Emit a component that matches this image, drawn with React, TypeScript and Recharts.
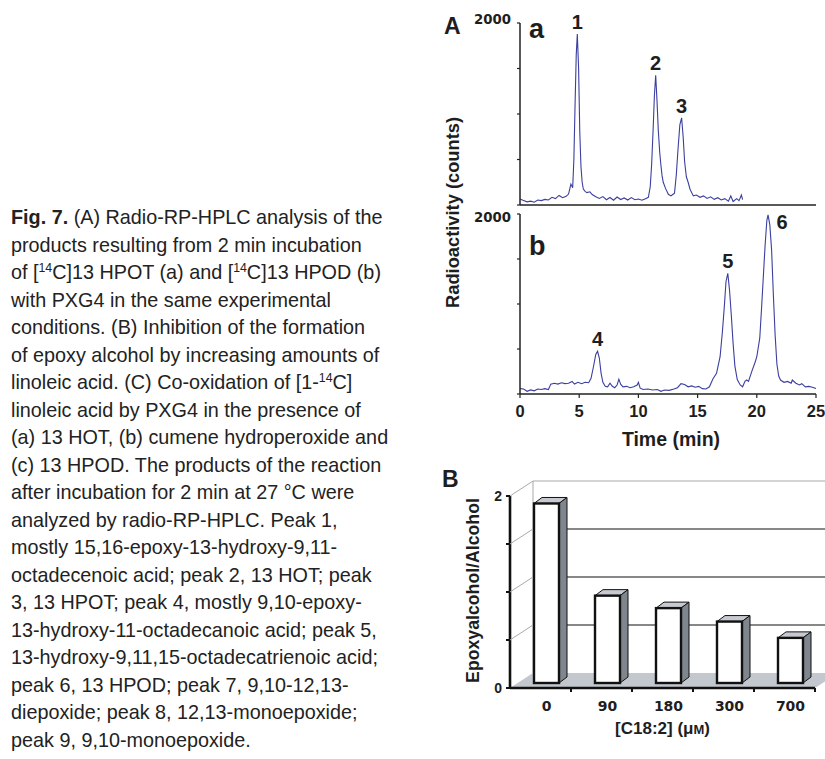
import React from 'react';
import { LineChart, Line, XAxis, YAxis, ReferenceDot, BarChart, Bar, CartesianGrid } from 'recharts';

// ---------------- data ----------------
const timeTicks = [0, 5, 10, 15, 20, 25];
const countTicks = [0, 500, 1000, 1500, 2000];

// panel a: [14C]13 HPOT  (time in min, counts)
const traceA: [number, number][] = [
  [0, 65], [0.3, 50], [0.6, 35], [0.9, 42], [1.2, 30], [1.5, 55], [1.8, 48], [2.1, 62], [2.4, 55],
  [2.7, 85], [3.0, 70], [3.3, 105], [3.6, 80], [3.9, 95], [4.1, 120], [4.3, 230], [4.45, 190],
  [4.55, 500], [4.65, 1100], [4.75, 1650], [4.84, 1880], [4.95, 1500], [5.05, 800], [5.15, 420],
  [5.25, 250], [5.35, 175], [5.5, 150], [5.65, 136], [5.9, 145], [6.1, 115], [6.4, 90], [6.7, 72],
  [7.0, 92], [7.3, 58], [7.6, 82], [7.9, 52], [8.2, 88], [8.5, 60], [8.8, 78], [9.1, 55], [9.4, 82],
  [9.7, 58], [10.0, 66], [10.3, 52], [10.6, 70], [10.84, 85], [11.0, 200], [11.12, 450], [11.25, 850],
  [11.35, 1200], [11.46, 1425], [11.57, 1150], [11.68, 820], [11.8, 580], [11.9, 440], [12.0, 320],
  [12.1, 250], [12.3, 180], [12.53, 118], [12.75, 100], [12.9, 115], [13.05, 130], [13.2, 330],
  [13.35, 620], [13.5, 880], [13.65, 958], [13.78, 750], [13.9, 480], [14.05, 310], [14.2, 250],
  [14.36, 173], [14.64, 100], [14.9, 110], [15.2, 85], [15.5, 100], [15.8, 72], [16.1, 90], [16.4, 62],
  [16.7, 80], [17.0, 55], [17.3, 70], [17.6, 42], [17.8, 100], [18.0, 38], [18.3, 70], [18.5, 48],
  [18.7, 110], [18.8, 60],
];

// panel b: [14C]13 HPOD
const traceB: [number, number][] = [
  [0, 60], [0.3, 55], [0.6, 30], [0.9, 45], [1.2, 35], [1.5, 55], [1.8, 50], [2.1, 60], [2.4, 50],
  [2.6, 110], [2.9, 120], [3.2, 110], [3.5, 125], [3.8, 115], [4.1, 120], [4.4, 140], [4.6, 110],
  [4.9, 130], [5.2, 115], [5.5, 130], [5.8, 125], [6.0, 175], [6.2, 300], [6.4, 440], [6.55, 475],
  [6.7, 400], [6.85, 230], [7.0, 130], [7.2, 85], [7.4, 80], [7.6, 120], [7.8, 85], [8.0, 70],
  [8.2, 100], [8.35, 165], [8.5, 110], [8.7, 80], [9.0, 85], [9.3, 70], [9.6, 80], [9.9, 100],
  [10.0, 130], [10.15, 65], [10.4, 50], [10.8, 55], [11.2, 45], [11.6, 50], [11.9, 30], [12.2, 45],
  [12.6, 40], [13.0, 55], [13.3, 70], [13.6, 115], [13.9, 105], [14.2, 80], [14.5, 90], [14.8, 75],
  [15.1, 85], [15.4, 60], [15.7, 55], [16.0, 80], [16.3, 170], [16.6, 230], [16.9, 414], [17.1, 700],
  [17.25, 960], [17.4, 1250], [17.55, 1340], [17.7, 1150], [17.85, 870], [18.0, 560], [18.15, 310],
  [18.35, 160], [18.6, 100], [18.8, 80], [19.0, 140], [19.15, 155], [19.3, 140], [19.6, 260],
  [19.85, 350], [20.0, 414], [20.25, 620], [20.4, 950], [20.55, 1300], [20.7, 1650], [20.85, 1930],
  [20.95, 1990], [21.1, 1880], [21.25, 1600], [21.4, 1100], [21.55, 650], [21.7, 330], [21.85, 200],
  [22.0, 155], [22.3, 130], [22.6, 140], [22.9, 120], [23.0, 155], [23.3, 120], [23.6, 100],
  [23.8, 115], [24.1, 80], [24.4, 85], [24.7, 75], [25.0, 60],
];

const peaksA = [
  { label: '1', t: 4.84, v: 1880 },
  { label: '2', t: 11.46, v: 1425 },
  { label: '3', t: 13.65, v: 958 },
];
const peaksB = [
  { label: '4', t: 6.55, v: 475 },
  { label: '5', t: 17.55, v: 1340 },
  { label: '6', t: 20.95, v: 1990 },
];

const concLabels = ['0', '90', '180', '300', '700'];
const ratioValues = [1.87, 0.91, 0.78, 0.64, 0.47];
const ratioTicks = [0, 0.5, 1, 1.5, 2];

// ---------------- styles ----------------
const SANS = '"Liberation Sans", Arial, Helvetica, sans-serif';
const WIDE = '"DejaVu Sans", Verdana, sans-serif';
const INK = '#1e1e1e';
const TRACE = '#3b3f9e';
const BX = 6, BY = -5, BDX = 8, BDY = -6; // 3D bar offsets
const WDX = 23, WDY = -15; // depth of back wall

const peakLabelOffset: Record<string, { dx: number; dy: number }> = {
  '6': { dx: 14, dy: 14 },
};

const peakLabel = (text: string) => (props: any) => {
  const vb = props.viewBox || { x: 0, y: 0, width: 0, height: 0 };
  const cx = vb.x + (vb.width || 0) / 2;
  const cy = vb.y + (vb.height || 0) / 2;
  const o = peakLabelOffset[text] || { dx: 0, dy: -5 };
  return (
    <text x={cx + o.dx} y={cy + o.dy} textAnchor="middle" fontFamily={SANS} fontWeight="bold" fontSize={20} fill={INK}>
      {text}
    </text>
  );
};

const CountTick = (props: any) => {
  const { x, y, payload, labelDy } = props;
  if (payload.value !== 2000) return <g />;
  return (
    <text x={x} y={y + labelDy} textAnchor="end" fontFamily={WIDE} fontWeight="bold" fontSize={13.3} fill={INK}>
      {payload.value}
    </text>
  );
};

const TimeTick = (props: any) => {
  const { x, y, payload } = props;
  return (
    <text x={x} y={y + 14} textAnchor="middle" fontFamily={SANS} fontWeight="bold" fontSize={16.5} fill={INK}>
      {payload.value}
    </text>
  );
};

const Bar3D = (props: any) => {
  const { x, y, width, height } = props;
  if (height == null || width == null) return <g />;
  const fx = x + BX;
  const fy = y + BY;
  return (
    <g>
      <polygon
        points={`${fx},${fy} ${fx + width},${fy} ${fx + width + BDX},${fy + BDY} ${fx + BDX},${fy + BDY}`}
        fill="#c6cad0" stroke="#111" strokeWidth={1} strokeLinejoin="round"
      />
      <polygon
        points={`${fx + width},${fy} ${fx + width + BDX},${fy + BDY} ${fx + width + BDX},${fy + height + BDY} ${fx + width},${fy + height}`}
        fill="#7f868e" stroke="#111" strokeWidth={1} strokeLinejoin="round"
      />
      <rect x={fx} y={fy} width={width} height={height} fill="#fff" stroke="#111" strokeWidth={2.4} />
    </g>
  );
};

const gridLine = (props: any) => {
  const { x1, x2, y1, index, y, height } = props;
  const top = y;
  const bottom = y + height;
  const isEdge = Math.abs(y1 - top) < 1 || Math.abs(y1 - bottom) < 1;
  const line = isEdge ? null : (
    <line x1={x1 + WDX} y1={y1 + WDY} x2={x2 + WDX} y2={y1 + WDY} stroke="#111" strokeWidth={1} />
  );
  if (index === 0) {
    return (
      <g key={props.key}>
        <polygon
          points={`${x1},${bottom} ${x2},${bottom} ${x2 + WDX},${bottom + WDY} ${x1 + WDX},${bottom + WDY}`}
          fill="#c3c7ce"
        />
        <line x1={x1 + WDX} y1={top + WDY} x2={x1 + WDX} y2={bottom + WDY} stroke="#a9a9a9" strokeWidth={1} />
        <line x1={x1 + WDX} y1={top + WDY} x2={x2 + WDX} y2={top + WDY} stroke="#a9a9a9" strokeWidth={1} />
        {line}
      </g>
    );
  }
  return <g key={props.key}>{line}</g>;
};

const RatioTick = (props: any) => {
  const { x, y, payload } = props;
  const v = payload.value;
  return (
    <g>
      <line x1={x - 4} y1={y} x2={x} y2={y} stroke="#111" strokeWidth={2} />
      {v > 0 && <line x1={x} y1={y} x2={x + WDX} y2={y + WDY} stroke="#a9a9a9" strokeWidth={1} />}
      {(v === 0 || v === 2) && (
        <text x={x - 8} y={y} dy="0.36em" textAnchor="end" fontFamily={SANS} fontWeight="bold" fontSize={14} fill={INK}>
          {v}
        </text>
      )}
    </g>
  );
};

const ConcTick = (props: any) => {
  const { x, y, payload, width, visibleTicksCount } = props;
  const half = width && visibleTicksCount ? width / visibleTicksCount / 2 : 30.5;
  return (
    <g>
      <line x1={x + half} y1={y} x2={x + half} y2={y + 4} stroke="#111" strokeWidth={2} />
      <text x={x + BX} y={y + 23} textAnchor="middle" fontFamily={WIDE} fontWeight="bold" fontSize={14} fill={INK}>
        {payload.value}
      </text>
    </g>
  );
};

const sup = (s: string) => (
  <span style={{ fontSize: '0.62em', position: 'relative', top: '-0.6em' }}>{s}</span>
);

const captionLines: React.ReactNode[] = [
  <><b>Fig. 7.</b> (A) Radio-RP-HPLC analysis of the</>,
  'products resulting from 2 min incubation',
  <>of [{sup('14')}C]13 HPOT (a) and [{sup('14')}C]13 HPOD (b)</>,
  'with PXG4 in the same experimental',
  'conditions. (B) Inhibition of the formation',
  'of epoxy alcohol by increasing amounts of',
  <>linoleic acid. (C) Co-oxidation of [1-{sup('14')}C]</>,
  'linoleic acid by PXG4 in the presence of',
  '(a) 13 HOT, (b) cumene hydroperoxide and',
  '(c) 13 HPOD. The products of the reaction',
  'after incubation for 2 min at 27 °C were',
  'analyzed by radio-RP-HPLC. Peak 1,',
  'mostly 15,16-epoxy-13-hydroxy-9,11-',
  'octadecenoic acid; peak 2, 13 HOT; peak',
  '3, 13 HPOT; peak 4, mostly 9,10-epoxy-',
  '13-hydroxy-11-octadecanoic acid; peak 5,',
  '13-hydroxy-9,11,15-octadecatrienoic acid;',
  'peak 6, 13 HPOD; peak 7, 9,10-12,13-',
  'diepoxide; peak 8, 12,13-monoepoxide;',
  'peak 9, 9,10-monoepoxide.',
];

const LINE_PITCH = 27.5;
const FIRST_LINE_TOP = 204;

export default function App() {
  const dataA = traceA.map(([t, v]) => ({ t, v }));
  const dataB = traceB.map(([t, v]) => ({ t, v }));
  const dataBars = concLabels.map((c, i) => ({ conc: c, ratio: ratioValues[i] }));
  const axisStroke = { stroke: '#222', strokeWidth: 1.5 };

  return (
    <div style={{ position: 'absolute', left: 0, top: 0, width: 825, height: 759, background: '#fff', overflow: 'hidden', fontFamily: SANS }}>
      {/* caption */}
      {captionLines.map((ln, i) => (
        <div
          key={i}
          style={{
            position: 'absolute', left: 11, top: FIRST_LINE_TOP + i * LINE_PITCH, whiteSpace: 'nowrap',
            fontSize: 19.8, lineHeight: `${LINE_PITCH}px`, color: '#222', fontFamily: SANS,
          }}
        >
          {ln}
        </div>
      ))}

      {/* panel A a */}
      <div style={{ position: 'absolute', left: 440, top: 10 }}>
        <LineChart width={385} height={200} data={dataA} margin={{ top: 13, right: 9, bottom: 5, left: 79 }}>
          <XAxis
            dataKey="t" type="number" domain={[0, 25]} ticks={timeTicks} height={1} mirror tick={false}
            tickSize={4} axisLine={axisStroke} tickLine={{ stroke: '#222', strokeWidth: 1.2 }} interval={0}
          />
          <YAxis
            type="number" domain={[0, 2000]} ticks={countTicks} width={1} tickSize={3} tickMargin={6} interval={0}
            axisLine={axisStroke} tickLine={{ stroke: '#222', strokeWidth: 1.2 }}
            tick={(p: any) => <CountTick {...p} labelDy={0.5} />}
          />
          <Line dataKey="v" type="linear" stroke={TRACE} strokeWidth={1.1} dot={false} isAnimationActive={false} />
          {peaksA.map((p) => (
            <ReferenceDot key={p.label} x={p.t} y={p.v} r={0} fill="none" stroke="none" label={peakLabel(p.label)} />
          ))}
        </LineChart>
      </div>

      {/* panel A b */}
      <div style={{ position: 'absolute', left: 440, top: 204 }}>
        <LineChart width={385} height={260} data={dataB} margin={{ top: 10, right: 9, bottom: 69, left: 79 }}>
          <XAxis
            dataKey="t" type="number" domain={[0, 25]} ticks={timeTicks} height={1} tickSize={4} tickMargin={5}
            interval={0} axisLine={axisStroke} tickLine={{ stroke: '#222', strokeWidth: 1.2 }}
            tick={(p: any) => <TimeTick {...p} />}
            label={{
              content: (p: any) => {
                const vb = p.viewBox;
                return (
                  <text x={vb.x + vb.width / 2 + 3} y={vb.y + 52} textAnchor="middle" fontFamily={SANS} fontWeight="bold" fontSize={19.5} fill={INK}>
                    Time (min)
                  </text>
                );
              },
            }}
          />
          <YAxis
            type="number" domain={[0, 2000]} ticks={countTicks} width={1} tickSize={3} tickMargin={6} interval={0}
            axisLine={axisStroke} tickLine={{ stroke: '#222', strokeWidth: 1.2 }}
            tick={(p: any) => <CountTick {...p} labelDy={8} />}
          />
          <Line dataKey="v" type="linear" stroke={TRACE} strokeWidth={1.1} dot={false} isAnimationActive={false} />
          {peaksB.map((p) => (
            <ReferenceDot key={p.label} x={p.t} y={p.v} r={0} fill="none" stroke="none" label={peakLabel(p.label)} />
          ))}
        </LineChart>
      </div>

      {/* panel B */}
      <div style={{ position: 'absolute', left: 440, top: 470 }}>
        <BarChart width={385} height={289} data={dataBars} margin={{ top: 26, right: 10, bottom: 70, left: 69 }} barSize={25}>
          <CartesianGrid vertical={false} horizontal={gridLine} />
          <XAxis
            dataKey="conc" height={1} tickSize={0} tickMargin={0} tickLine={false} interval={0}
            axisLine={{ stroke: '#111', strokeWidth: 2.6 }}
            tick={(p: any) => <ConcTick {...p} />}
            label={{
              content: (p: any) => {
                const vb = p.viewBox;
                return (
                  <text x={vb.x + vb.width / 2} y={vb.y + 46} textAnchor="middle" fontFamily={SANS} fontWeight="bold" fontSize={17} fill={INK}>
                    [C18:2] (μ<tspan fontSize={13}>M</tspan>)
                  </text>
                );
              },
            }}
          />
          <YAxis
            type="number" domain={[0, 2]} ticks={ratioTicks} width={1} tickSize={0} tickMargin={0} tickLine={false}
            interval={0} axisLine={{ stroke: '#111', strokeWidth: 2.6 }}
            tick={(p: any) => <RatioTick {...p} />}
            label={{
              content: (p: any) => {
                const vb = p.viewBox;
                const cx = vb.x + vb.width - 37;
                const cy = vb.y + vb.height / 2 - 1.5;
                return (
                  <text x={cx} y={cy} transform={`rotate(-90 ${cx} ${cy})`} textAnchor="middle" dominantBaseline="central" fontFamily={SANS} fontWeight="bold" fontSize={17.7} fill={INK}>
                    Epoxyalcohol/Alcohol
                  </text>
                );
              },
            }}
          />
          <Bar dataKey="ratio" shape={(p: any) => <Bar3D {...p} />} isAnimationActive={false} />
        </BarChart>
      </div>

      {/* panel letters and shared title */}
      <svg width={825} height={759} style={{ position: 'absolute', left: 0, top: 0, pointerEvents: 'none' }}>
        <text x={444} y={34} fontFamily={SANS} fontWeight="bold" fontSize={23} fill={INK}>A</text>
        <text x={442} y={487} fontFamily={SANS} fontWeight="bold" fontSize={23} fill={INK}>B</text>
        <text x={529} y={38} fontFamily={SANS} fontWeight="bold" fontSize={27} fill={INK}>a</text>
        <text x={529} y={255} fontFamily={SANS} fontWeight="bold" fontSize={27} fill={INK}>b</text>
        <text x={452} y={212.5} transform="rotate(-90 452 212.5)" textAnchor="middle" dominantBaseline="central" fontFamily={SANS} fontWeight="bold" fontSize={18.3} fill={INK}>
          Radioactivity (counts)
        </text>
      </svg>
    </div>
  );
}
